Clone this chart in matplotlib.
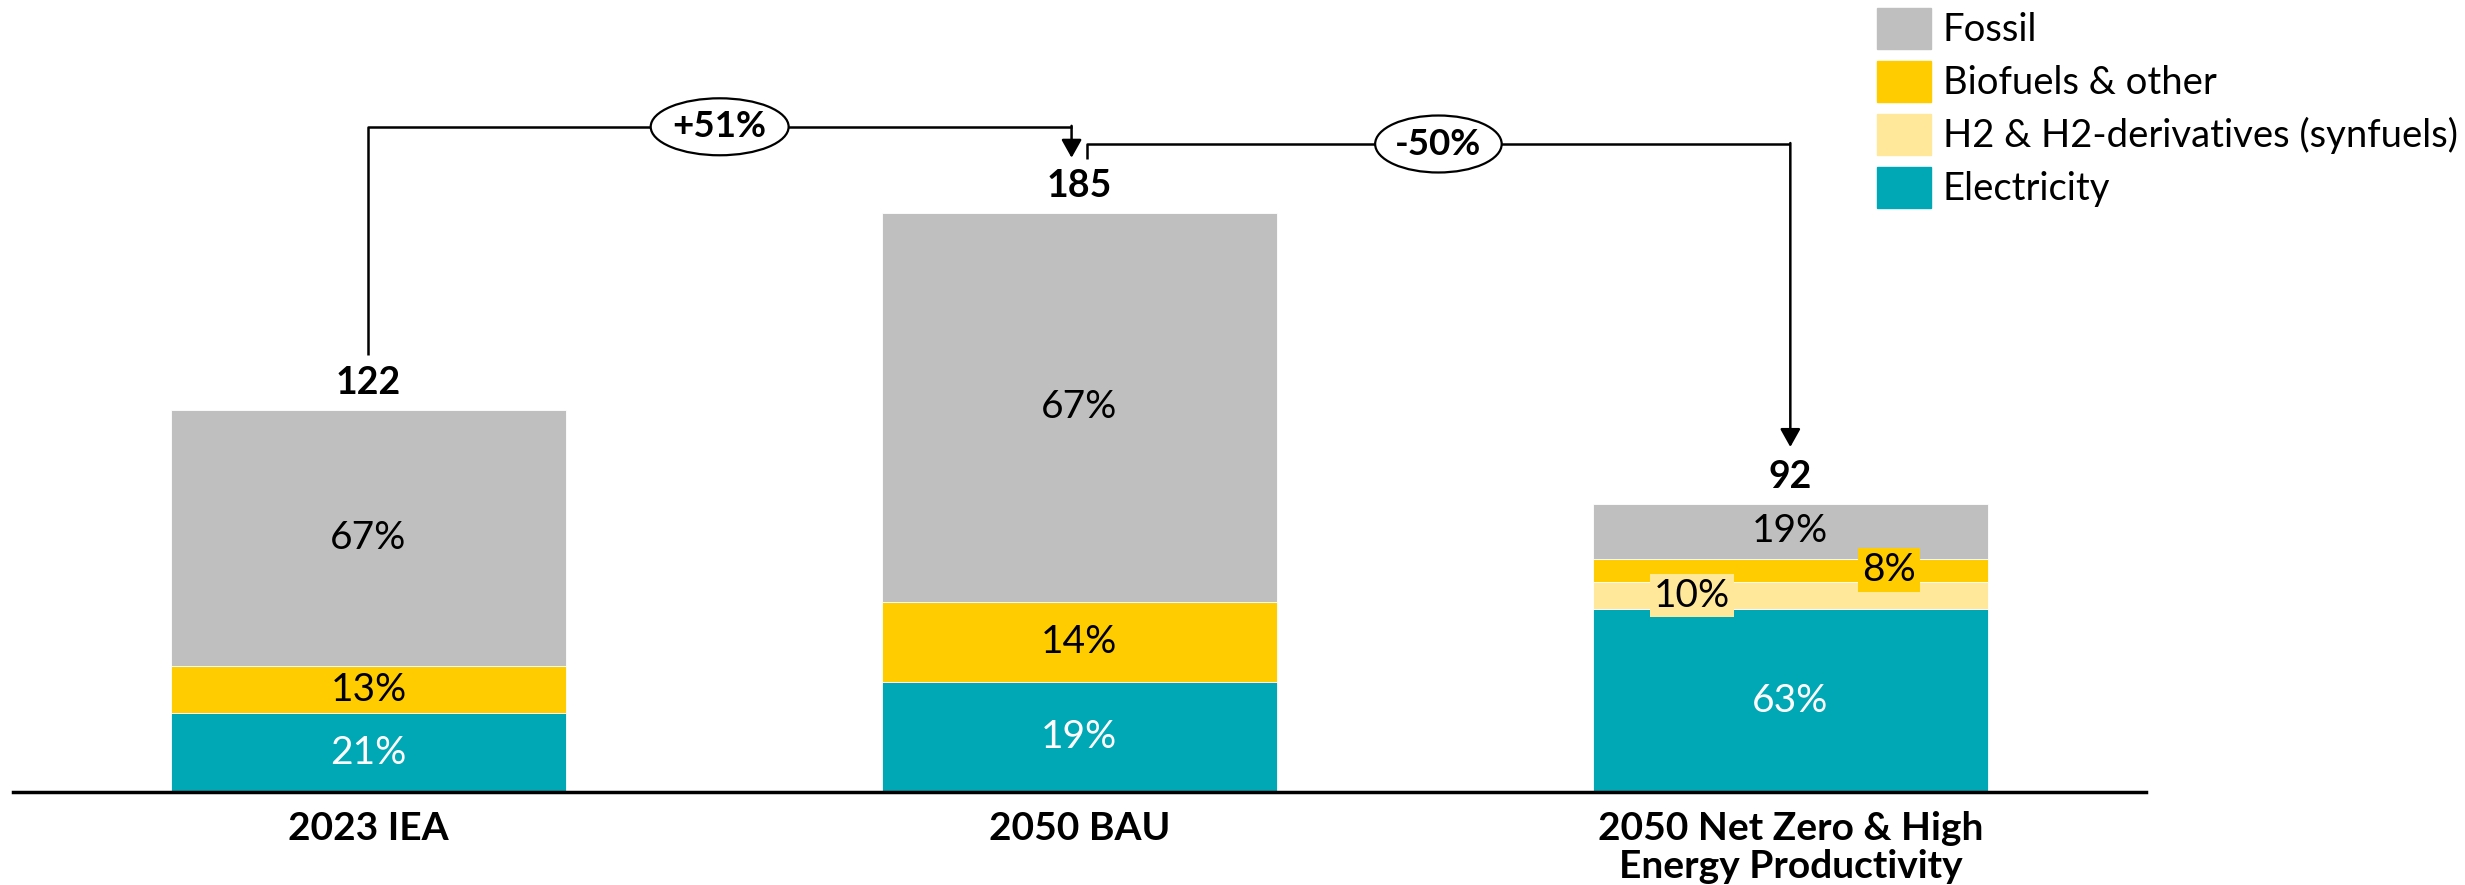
import numpy as np
import matplotlib.pyplot as plt
from matplotlib.patches import Ellipse, Patch

plt.rcParams['font.family'] = ['Lato', 'DejaVu Sans']

# data
scenarios = ['2023 IEA', '2050 BAU', '2050 Net Zero & High\nEnergy Productivity']
totals = [122, 185, 92]
electricity = [25.2, 35.2, 58.3]
h2 = [0.0, 0.0, 8.9]
biofuels = [15.0, 25.6, 7.3]
fossil = [81.8, 124.2, 17.5]

elec_pct = ['21%', '19%', '63%']
h2_pct = [None, None, '10%']
bio_pct = ['13%', '14%', '8%']
fossil_pct = ['67%', '67%', '19%']
changes = ['+51%', '-50%']

names = ['Electricity', 'H2 & H2-derivatives (synfuels)', 'Biofuels & other', 'Fossil']
colors = ['#00A8B6', '#FFE89A', '#FFCC00', '#BFBFBF']

fig = plt.figure(figsize=(24.65, 8.85), dpi=100)
ax = fig.add_axes([13 / 2465, 93 / 885, 1 - 13 / 2465, 792 / 885])
ax.set_xlim(-0.5, 2.949)
ax.set_ylim(0, 253)

x = np.arange(len(scenarios))
w = 0.556
series = [electricity, h2, biofuels, fossil]
pcts = [elec_pct, h2_pct, bio_pct, fossil_pct]
bottom = np.zeros(len(x))
for vals, col, name, lab in zip(series, colors, names, pcts):
    vals = np.array(vals)
    ax.bar(x, vals, w, bottom=bottom, color=col, label=name,
           edgecolor='white', linewidth=0.6, zorder=2)
    for i, (v, t) in enumerate(zip(vals, lab)):
        if t is None or v == 0:
            continue
        yc = bottom[i] + v / 2
        tc = 'white' if name == 'Electricity' else 'black'
        if i == 2 and name == 'H2 & H2-derivatives (synfuels)':
            ax.text(i - 0.138, yc, t, ha='center', va='center', fontsize=28, color=tc,
                    zorder=5, bbox=dict(boxstyle='square,pad=0.1', fc=col, ec='none'))
        elif i == 2 and name == 'Biofuels & other':
            ax.text(i + 0.139, yc, t, ha='center', va='center', fontsize=28, color=tc,
                    zorder=5, bbox=dict(boxstyle='square,pad=0.1', fc=col, ec='none'))
        else:
            ax.text(i, yc, t, ha='center', va='center', fontsize=28, color=tc, zorder=5)
    bottom += vals

# totals
for i, t in enumerate(totals):
    ax.text(i, t + 8.5, str(t), ha='center', va='center', fontsize=27,
            fontweight='bold', zorder=5)

# baseline
ax.plot([-0.5, 2.5], [0, 0], color='black', lw=2.5, clip_on=False, zorder=4)

# change brackets
lk = dict(color='black', lw=1.8, solid_capstyle='butt', zorder=3)
arr = dict(arrowstyle='-|>,head_length=0.5,head_width=0.28', color='black',
           lw=1.8, mutation_scale=22, shrinkA=0, shrinkB=0)

y1 = 212.5
ax.plot([0, 0, 0.989], [139.6, y1, y1], **lk)
ax.annotate('', xy=(0.989, 202.6), xytext=(0.989, y1 + 0.3), arrowprops=arr)
y2 = 207.0
ax.plot([1.0105, 1.0105, 2], [202.2, y2, y2], **lk)
ax.annotate('', xy=(2, 110.2), xytext=(2, y2 + 0.3), arrowprops=arr)

for cx, cy, ew, t in [(0.494, y1, 0.194, changes[0]), (1.505, y2, 0.178, changes[1])]:
    ax.add_patch(Ellipse((cx, cy), ew, 18.2, fc='white', ec='black', lw=1.6, zorder=4))
    ax.text(cx, cy, t, ha='center', va='center', fontsize=26.5, fontweight='bold', zorder=5)

# axis cosmetics
for s in ax.spines.values():
    s.set_visible(False)
ax.set_yticks([])
ax.set_xticks(x)
ax.set_xticklabels(scenarios, fontsize=28, fontweight='bold', linespacing=1.1)
ax.tick_params(axis='x', length=0, pad=14)

# legend
hs = [Patch(color=c) for c in colors][::-1]
ax.legend(hs, names[::-1], loc='upper left', bbox_to_anchor=(1877 / 2465, 1 - 8 / 885),
          bbox_transform=fig.transFigure, frameon=False, fontsize=27.5,
          handlelength=1.42, handleheight=1.28, handletextpad=0.3,
          labelspacing=0.31, borderaxespad=0, borderpad=0)

fig.savefig('out.png', dpi=100)
